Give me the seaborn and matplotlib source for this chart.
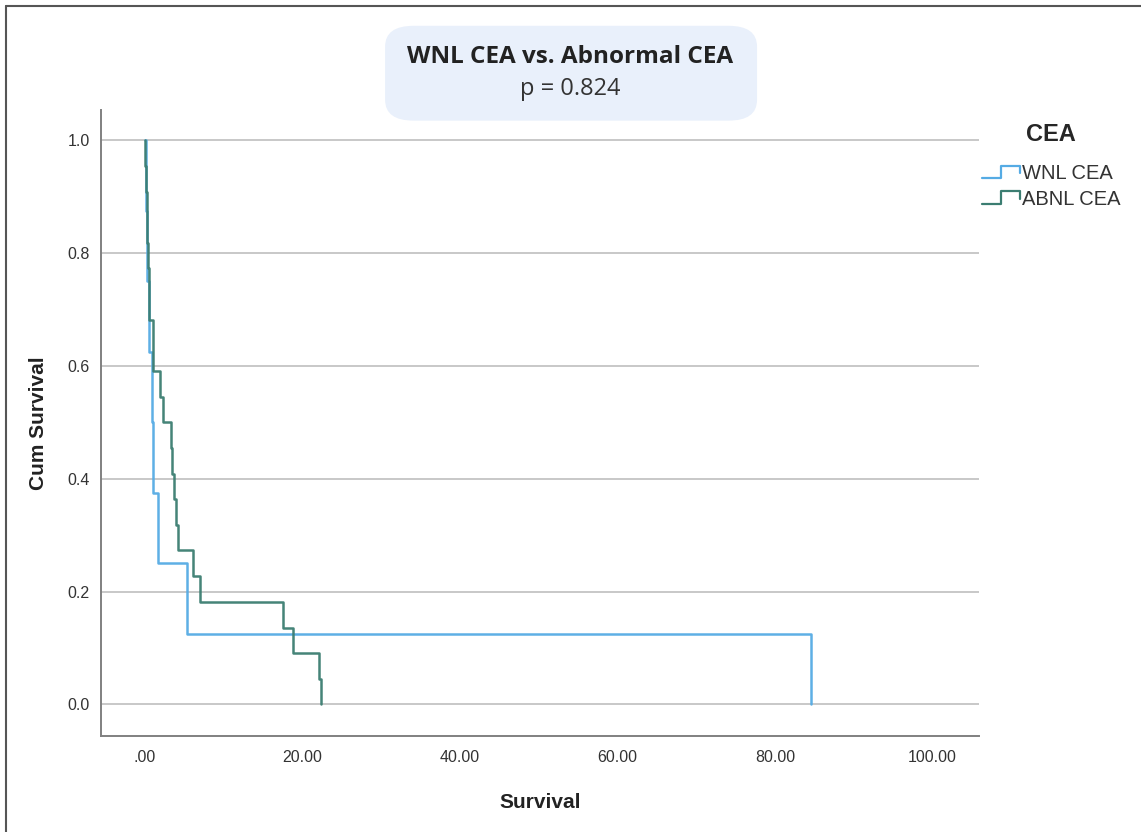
import matplotlib
matplotlib.use("Agg")
import matplotlib.pyplot as plt
from matplotlib.lines import Line2D
from matplotlib.legend_handler import HandlerBase
from matplotlib.patches import FancyBboxPatch
import pandas as pd
import seaborn as sns

# Kaplan-Meier step points: time of each drop and survival after it
wnl_time = [0.0, 0.1, 0.3, 0.5, 0.85, 1.0, 1.7, 5.3, 84.6]
wnl_surv = [1.0, 0.875, 0.75, 0.625, 0.5, 0.375, 0.25, 0.125, 0.0]

abnl_time = [0.0, 0.05, 0.12, 0.2, 0.28, 0.36, 0.44, 0.52, 1.05, 1.9, 2.25,
             3.26, 3.43, 3.64, 3.9, 4.15, 6.13, 6.98, 17.5, 18.8, 22.1, 22.4]
abnl_surv = [1.0, 0.955, 0.909, 0.864, 0.818, 0.773, 0.727, 0.682, 0.591,
             0.545, 0.5, 0.455, 0.409, 0.364, 0.318, 0.273, 0.227, 0.182,
             0.136, 0.091, 0.045, 0.0]

groups = ["WNL CEA", "ABNL CEA"]
colors = ["#55ABE4", "#3B7D71"]
x_ticks = [0, 20, 40, 60, 80, 100]
x_tick_labels = [".00", "20.00", "40.00", "60.00", "80.00", "100.00"]
y_ticks = [0.0, 0.2, 0.4, 0.6, 0.8, 1.0]
title_text = "WNL CEA vs. Abnormal CEA"
p_text = "p = 0.824"

df = pd.concat([
    pd.DataFrame({"Survival": wnl_time, "Cum Survival": wnl_surv, "CEA": groups[0]}),
    pd.DataFrame({"Survival": abnl_time, "Cum Survival": abnl_surv, "CEA": groups[1]}),
], ignore_index=True)

sns.set_theme(style="white")
plt.rcParams["font.family"] = ["Liberation Sans", "DejaVu Sans"]

fig = plt.figure(figsize=(11.41, 8.32), dpi=100)
ax = fig.add_axes([0.0885, 0.1154, 0.7695, 0.7524])

for grp, col in zip(groups, colors):
    sns.lineplot(data=df[df["CEA"] == grp], x="Survival", y="Cum Survival",
                 color=col, lw=1.8, drawstyle="steps-post", estimator=None,
                 sort=False, ax=ax, legend=False, alpha=0.95)

ax.set_xlim(-5.6, 105.9)
ax.set_ylim(-0.056, 1.054)
ax.set_xticks(x_ticks)
ax.set_xticklabels(x_tick_labels)
ax.set_yticks(y_ticks)
ax.set_yticklabels([f"{v:.1f}" for v in y_ticks])
ax.yaxis.grid(True, color="#C8C8C8", lw=1.4)
ax.xaxis.grid(False)
ax.set_axisbelow(True)
for side in ["top", "right"]:
    ax.spines[side].set_visible(False)
for side in ["left", "bottom"]:
    ax.spines[side].set_color("#808080")
    ax.spines[side].set_linewidth(1.4)
ax.tick_params(axis="x", labelsize=11.5, colors="#333333", length=0, pad=10)
ax.tick_params(axis="y", labelsize=11.5, colors="#333333", length=0, pad=8)
ax.set_xlabel("Survival", fontsize=15, fontweight="bold", color="#222222", labelpad=20)
ax.set_ylabel("Cum Survival", fontsize=15, fontweight="bold", color="#222222", labelpad=14)


class StepHandler(HandlerBase):
    def create_artists(self, legend, orig_handle, xdescent, ydescent,
                       width, height, fontsize, trans):
        w, h = width, height
        x0, y0 = -xdescent, -ydescent
        xs = [x0, x0 + 0.5 * w, x0 + 0.5 * w, x0 + w, x0 + w]
        ys = [y0 + 0.05 * h, y0 + 0.05 * h, y0 + 0.95 * h, y0 + 0.95 * h, y0 + 0.4 * h]
        line = Line2D(xs, ys, color=orig_handle.get_color(), lw=1.6, transform=trans)
        return [line]


handles = [Line2D([], [], color=c) for c in colors]
leg = fig.legend(handles, groups, title="CEA", loc="upper left",
                 bbox_to_anchor=(0.8535, 0.862), frameon=False, fontsize=14.5,
                 handler_map={Line2D: StepHandler()}, handlelength=1.9,
                 handletextpad=0.1, labelspacing=0.33, alignment="center",
                 borderaxespad=0)
leg.get_title().set_fontsize(17)
leg.get_title().set_fontweight("bold")
leg._legend_box.sep = 13
for t in leg.get_texts():
    t.set_color("#333333")

# Rounded title panel with the log-rank p value
box = FancyBboxPatch((0.3375 + 0.012, 0.855 + 0.012), 0.326 - 0.024, 0.114 - 0.024,
                     boxstyle="round,pad=0.012,rounding_size=0.025",
                     transform=fig.transFigure, facecolor="#E9F0FB",
                     edgecolor="none", zorder=0)
fig.patches.append(box)
fig.text(0.5, 0.932, title_text, ha="center", va="center", fontsize=17.5,
         fontweight="bold", color="#222222", family=["Open Sans", "DejaVu Sans"])
fig.text(0.5, 0.893, p_text, ha="center", va="center", fontsize=17,
         color="#333333", family=["Open Sans", "DejaVu Sans"])

# Frame lines on the left and top edges
fig.add_artist(Line2D([0.0055, 0.0055], [0.0, 0.993], transform=fig.transFigure,
                      color="#555555", lw=1.5))
fig.add_artist(Line2D([0.0055, 1.0], [0.993, 0.993], transform=fig.transFigure,
                      color="#555555", lw=1.5))

fig.savefig("out.png", dpi=100)
